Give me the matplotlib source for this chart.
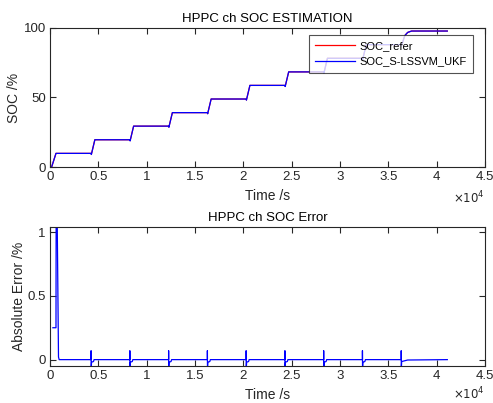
import matplotlib.pyplot as plt
from matplotlib.ticker import FuncFormatter

plt.rcParams['font.family'] = ['Liberation Sans', 'DejaVu Sans']

# SOC curve breakpoints (time in s, SOC in %)
t_soc = [170, 620, 4250, 4280, 4640, 8260, 8290, 8650, 12270, 12300, 12660,
         16280, 16310, 16670, 20290, 20320, 20680, 24300, 24330, 24690,
         28310, 28340, 28700, 32320, 32350, 32710, 36330, 36360, 36700,
         37000, 37400, 41100]
soc_refer = [0, 9.8, 9.8, 9.1, 19.6, 19.6, 18.9, 29.4, 29.4, 28.7, 39.1,
             39.1, 38.4, 48.9, 48.9, 48.2, 58.7, 58.7, 58.0, 68.4,
             68.4, 67.7, 78.2, 78.2, 77.5, 88.0, 88.0, 87.3, 94.5,
             96.8, 97.8, 97.8]
soc_ukf = [0, 9.8, 9.8, 9.0, 19.6, 19.6, 18.8, 29.4, 29.4, 28.6, 39.1,
           39.1, 38.3, 48.9, 48.9, 48.1, 58.7, 58.7, 57.9, 68.4,
           68.4, 67.6, 78.2, 78.2, 77.4, 88.0, 88.0, 87.2, 94.5,
           96.8, 97.8, 97.8]

# absolute error breakpoints
t_err = [300, 620, 640, 720, 880, 950,
         4250, 4251, 4262, 4300, 4500, 4560,
         8260, 8261, 8272, 8310, 8510, 8570,
         12270, 12271, 12282, 12320, 12520, 12580,
         16280, 16281, 16292, 16330, 16530, 16590,
         20290, 20291, 20302, 20340, 20540, 20600,
         24300, 24301, 24312, 24350, 24550, 24610,
         28310, 28311, 28322, 28360, 28560, 28620,
         32320, 32321, 32332, 32370, 32570, 32630,
         36330, 36331, 36342, 36380, 37000, 41100]
err = [0.25, 0.25, 1.3, 1.3, 0.02, 0.0,
       0.0, 0.07, -0.07, -0.02, -0.015, 0.0,
       0.0, 0.07, -0.07, -0.02, -0.015, 0.0,
       0.0, 0.07, -0.07, -0.02, -0.015, 0.0,
       0.0, 0.07, -0.07, -0.02, -0.015, 0.0,
       0.0, 0.07, -0.07, -0.02, -0.015, 0.0,
       0.0, 0.07, -0.07, -0.02, -0.015, 0.0,
       0.0, 0.07, -0.07, -0.02, -0.015, 0.0,
       0.0, 0.07, -0.07, -0.02, -0.015, 0.0,
       0.0, 0.07, -0.07, -0.015, -0.003, 0.0]

dark = '#262626'
fmt = FuncFormatter(lambda v, p: '%g' % (v / 1e4))


def style(ax):
    for s in ax.spines.values():
        s.set_color(dark)
        s.set_linewidth(0.8)
    ax.tick_params(direction='in', top=True, right=True, colors=dark,
                   labelsize=9.5, length=4, width=0.8, pad=3)
    ax.set_xlim(0, 45000)
    ax.set_xticks([i * 5000 for i in range(10)])
    ax.xaxis.set_major_formatter(fmt)


fig = plt.figure(figsize=(4.93, 4.03), dpi=100)
ax1 = fig.add_axes([0.1014, 0.5856, 0.8824, 0.345])
ax2 = fig.add_axes([0.1014, 0.0918, 0.8824, 0.345])

ax1.plot(t_soc, soc_refer, color='r', lw=0.9, label='SOC_refer')
ax1.plot(t_soc, soc_ukf, color='b', lw=0.9, label='SOC_S-LSSVM_UKF')
style(ax1)
ax1.set_ylim(0, 100)
ax1.set_yticks([0, 50, 100])
ax1.set_title('HPPC ch SOC ESTIMATION', fontsize=9.5, color='k', pad=4)
ax1.set_xlabel('Time /s', fontsize=10, color=dark, labelpad=4)
ax1.set_ylabel('SOC /%', fontsize=10, color=dark, labelpad=2)
leg = ax1.legend(loc='upper right', bbox_to_anchor=(0.973, 0.95),
                 fontsize=8, frameon=True, fancybox=False, handlelength=3.6,
                 borderpad=0.55, labelspacing=0.5, handletextpad=0.4,
                 borderaxespad=0)
leg.get_frame().set_edgecolor(dark)
leg.get_frame().set_linewidth(0.8)

ax2.plot(t_err, err, color='b', lw=0.9)
style(ax2)
ax2.set_ylim(-0.05, 1.04)
ax2.set_yticks([0, 0.5, 1])
ax2.yaxis.set_major_formatter(FuncFormatter(lambda v, p: '%g' % v))
ax2.set_title('HPPC ch SOC Error', fontsize=9.5, color='k', pad=4)
ax2.set_xlabel('Time /s', fontsize=10, color=dark, labelpad=4)
ax2.set_ylabel('Absolute Error /%', fontsize=10, color=dark, labelpad=1)

fig.text(0.983, 1 - 198 / 403, r'$\times10^{4}$', ha='right', va='center',
         fontsize=8.5, color=dark)
fig.text(0.983, 1 - 394 / 403, r'$\times10^{4}$', ha='right', va='center',
         fontsize=8.5, color=dark)

fig.savefig('out.png', dpi=100)
